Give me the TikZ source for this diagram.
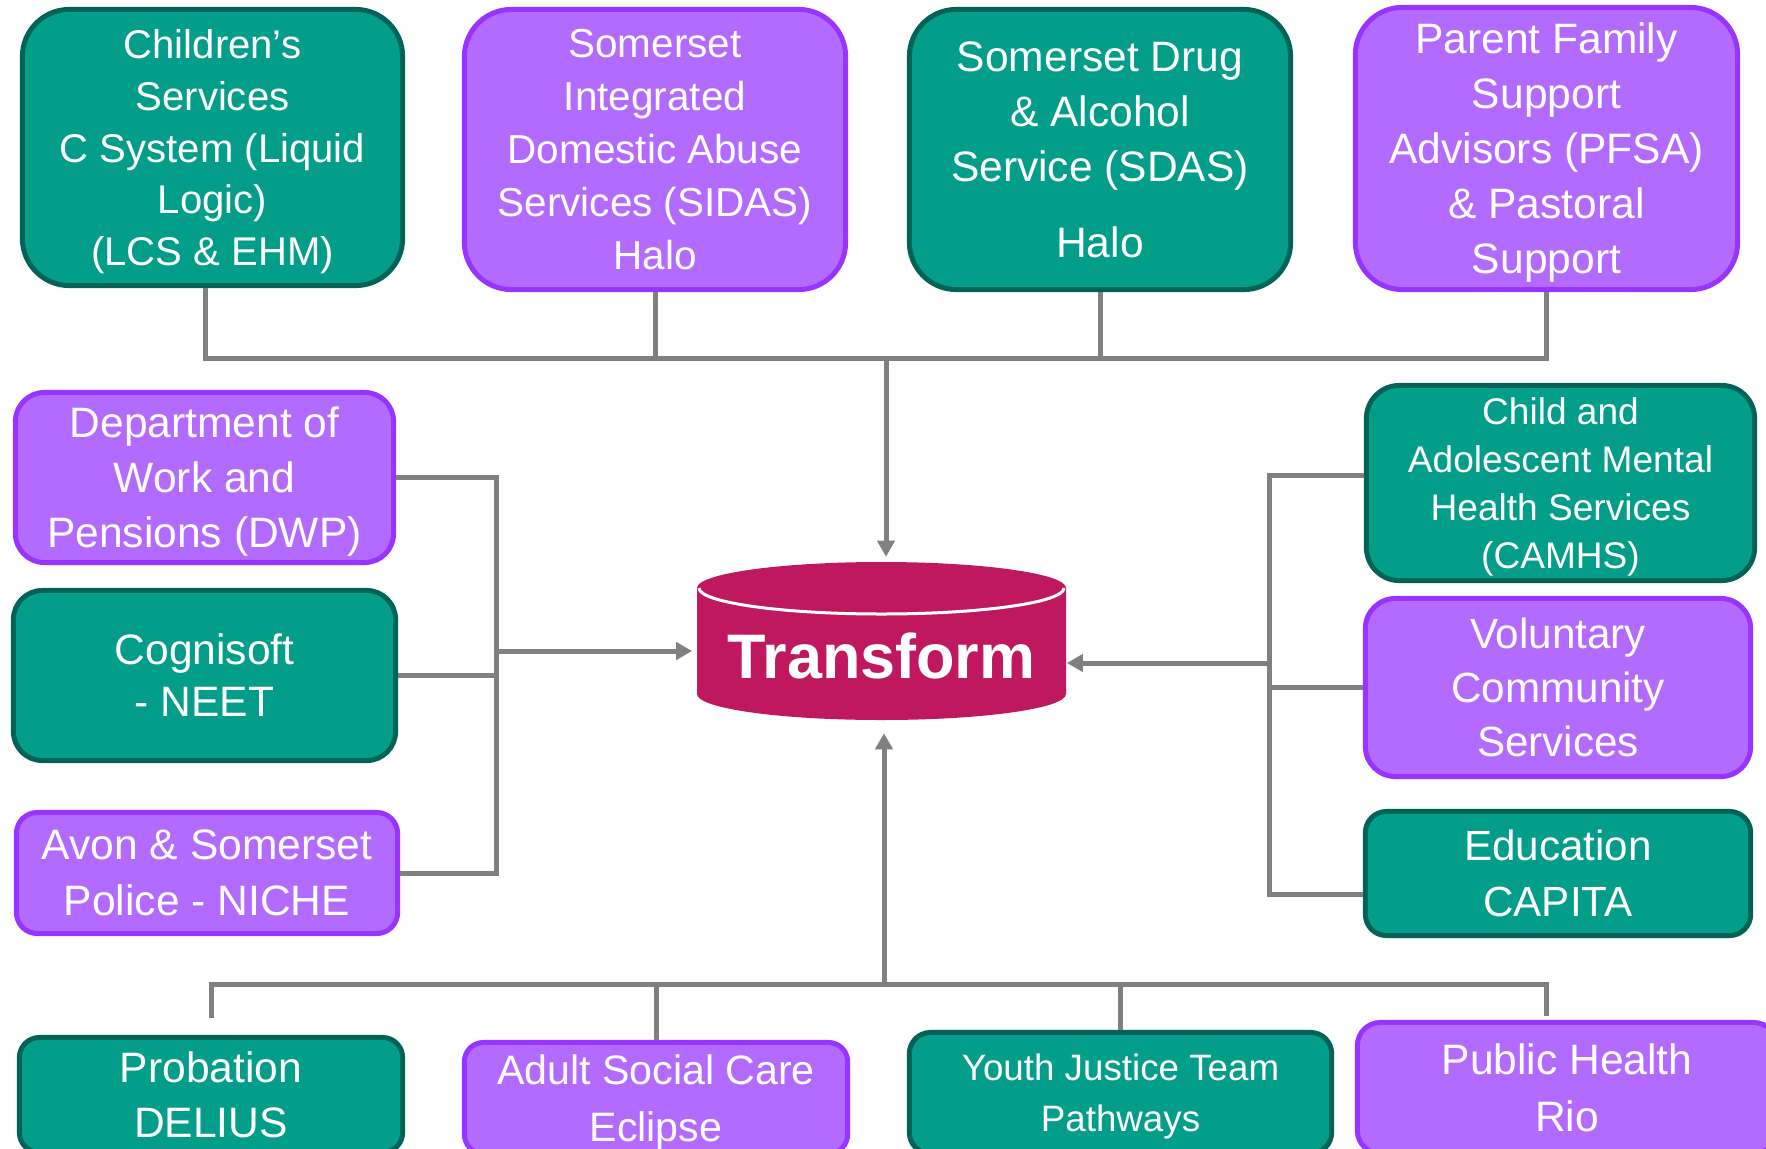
\documentclass[tikz,border=0pt]{standalone}
\usepackage{fontspec}
\setmainfont{Liberation Sans}
\usetikzlibrary{arrows.meta}

\definecolor{tealfill}{RGB}{3,158,138}
\definecolor{tealline}{RGB}{0,99,87}
\definecolor{lilacfill}{RGB}{179,107,255}
\definecolor{lilacline}{RGB}{153,51,255}
\definecolor{tfred}{RGB}{192,24,94}
\definecolor{linkgray}{RGB}{128,128,128}

\begin{document}
\begin{tikzpicture}[x=0.01cm,y=-0.01cm,
    box/.style={line width=0.05cm,text=white,align=center,inner sep=0pt,text depth=0pt,
      font=\fontsize{12.1}{15.65}\selectfont},
    tealbox/.style={box,draw=tealline,fill=tealfill},
    lilacbox/.style={box,draw=lilacline,fill=lilacfill},
    link/.style={draw=linkgray,line width=0.05cm},
    arrow/.style={link,-{Triangle[width=0.17cm,length=0.16cm]}}]

        \useasboundingbox (0,0) rectangle (1766,1148);
        \clip (0,0) rectangle (1766,1148);

        \fill[tfred] (697,588) -- (697,694) arc[start angle=180,end angle=0,x radius=184.5,y radius=26]
          -- (1066,588) arc[start angle=0,end angle=-180,x radius=184.5,y radius=26] -- cycle;
        \draw[white,line width=0.03cm] (699,588) arc[start angle=180,end angle=0,x radius=182.5,y radius=26];
        \node[text=white,inner sep=0pt,minimum width=3.69cm,minimum height=1.57cm,
          text height=0.74cm,text depth=0pt,font=\bfseries\fontsize{17.9}{20}\selectfont] (tf) at (881.5,641) {Transform};

        \begin{scope}[every node/.style={tealbox}]
          \node[minimum width=3.80cm,minimum height=2.76cm,rounded corners=0.47cm,
            font=\fontsize{11.4}{14.65}\selectfont] (kids) at (212.5,147.5)
            {Children’s\\Services\\C System (Liquid\\Logic)\\(LCS \& EHM)};
          \node[minimum width=3.81cm,minimum height=2.80cm,rounded corners=0.47cm] (sdas) at (1100,149.5)
            {Somerset Drug\\\& Alcohol\\Service (SDAS)\\[0.21cm]Halo};
          \node[minimum width=3.82cm,minimum height=1.70cm,rounded corners=0.29cm,
            font=\fontsize{12.1}{14.8}\selectfont] (cogni) at (204.5,675.5) {Cognisoft\\- NEET};
          \node[minimum width=3.88cm,minimum height=1.95cm,rounded corners=0.33cm,
            font=\fontsize{10.55}{13.65}\selectfont] (camhs) at (1560.5,483)
            {Child and\\Adolescent Mental\\Health Services\\(CAMHS)};
          \node[minimum width=3.85cm,minimum height=1.24cm,rounded corners=0.21cm,
            font=\fontsize{12}{15.9}\selectfont] (edu) at (1558,873.5) {Education\\CAPITA};
          \node[minimum width=3.83cm,minimum height=1.15cm,rounded corners=0.20cm] (prob) at (211,1095)
            {Probation\\DELIUS};
          \node[minimum width=4.22cm,minimum height=1.21cm,rounded corners=0.21cm,
            font=\fontsize{10.45}{14.5}\selectfont] (youth) at (1120.5,1093) {Youth Justice Team\\Pathways};
        \end{scope}

        \begin{scope}[every node/.style={lilacbox}]
          \node[minimum width=3.81cm,minimum height=2.80cm,rounded corners=0.47cm,
            font=\fontsize{11.5}{15.1}\selectfont] (sidas) at (655,149.5)
            {Somerset\\Integrated\\Domestic Abuse\\Services (SIDAS)\\Halo};
          \node[minimum width=3.82cm,minimum height=2.82cm,rounded corners=0.47cm] (pfsa) at (1546.5,148.5)
            {Parent Family\\Support\\Advisors (PFSA)\\\& Pastoral\\Support};
          \node[minimum width=3.78cm,minimum height=1.70cm,rounded corners=0.29cm] (dwp) at (204.5,477.5)
            {Department of\\Work and\\Pensions (DWP)};
          \node[minimum width=3.81cm,minimum height=1.21cm,rounded corners=0.21cm,
            font=\fontsize{12.1}{15.9}\selectfont] (avon) at (207,873) {Avon \& Somerset\\Police - NICHE};
          \node[minimum width=3.85cm,minimum height=1.78cm,rounded corners=0.30cm,
            font=\fontsize{12}{15.4}\selectfont] (vol) at (1558,687.5) {Voluntary\\Community\\Services};
          \node[minimum width=3.83cm,minimum height=1.11cm,rounded corners=0.19cm,
            font=\fontsize{11.7}{16.2}\selectfont] (adult) at (656,1098) {Adult Social Care\\Eclipse};
          \node[minimum width=4.19cm,minimum height=1.31cm,rounded corners=0.23cm,
            font=\fontsize{12.1}{16.2}\selectfont] (pubh) at (1567,1088) {Public Health\\Rio};
        \end{scope}

        \coordinate (tbus) at (886,358);
        \coordinate (lbus) at (496,651);
        \coordinate (rbus) at (1269,663);
        \coordinate (bbus) at (884,984);

        \draw[link] ([xshift=-0.07cm]kids.south) |- (tbus) -| (pfsa.south);
        \draw[link] (sidas.south) -- (sidas.south |- tbus);
        \draw[link] (sdas.south) -- (sdas.south |- tbus);
        \draw[arrow,shorten >=0.05cm] (tbus) -- (tbus |- tf.north);

        \draw[link] (dwp.east) -| (lbus);
        \draw[link] (avon.east) -| (lbus);
        \draw[link] (cogni.east) -- (cogni.east -| lbus);
        \draw[arrow,shorten >=0.04cm] (lbus) -- (lbus -| tf.west);

        \draw[link] ([yshift=0.08cm]camhs.west) -| (rbus);
        \draw[link] ([yshift=-0.21cm]edu.west) -| (rbus);
        \draw[link] (vol.west) -- (vol.west -| rbus);
        \draw[arrow] (rbus) -- (rbus -| tf.east);

        \draw[link] (bbus) -| ([yshift=0.17cm]prob.north);
        \draw[link] (bbus) -| (adult.north);
        \draw[link] (bbus) -| (youth.north);
        \draw[link] (bbus) -| ([xshift=-0.21cm,yshift=0.04cm]pubh.north);
        \draw[arrow,shorten >=0.13cm] (bbus) -- (bbus |- tf.south);

      \end{tikzpicture}
\end{document}
